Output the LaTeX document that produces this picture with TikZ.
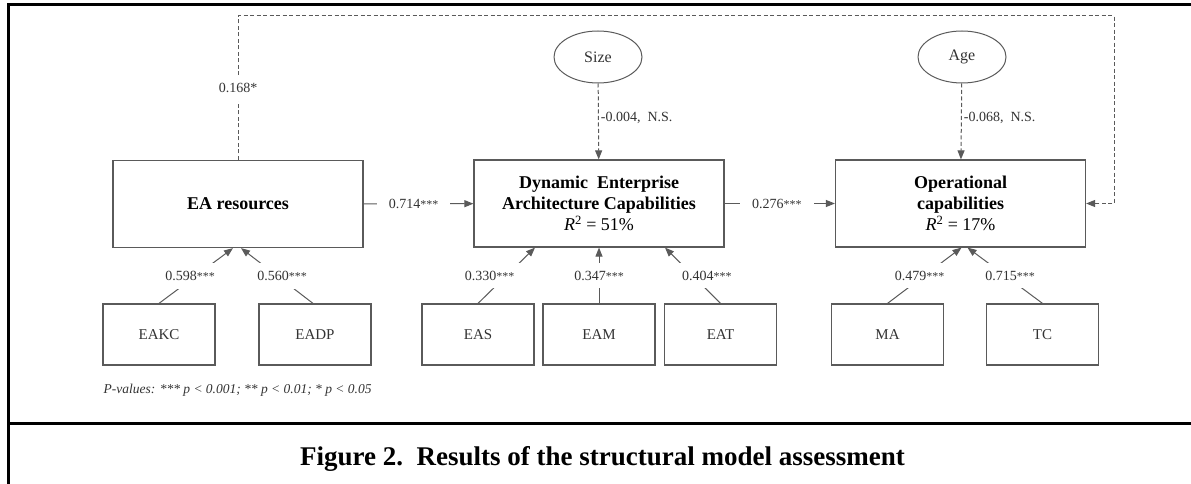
\documentclass[tikz,border=0pt]{standalone}
\usepackage{fontspec}
\setmainfont{Liberation Serif}
\usetikzlibrary{arrows.meta, shapes.geometric}

\definecolor{linegray}{HTML}{5A5A5A}
\definecolor{textgray}{HTML}{333333}
\newcommand{\stars}[1]{{\fontsize{12}{12}\selectfont#1}}

\begin{document}
\begin{tikzpicture}[x=1pt, y=-1pt,
        construct/.style={draw=linegray, line width=1.2pt, minimum width=250pt, minimum height=87pt,
            align=center, font=\fontsize{18}{21}\selectfont\bfseries},
        indicator/.style={draw=linegray, line width=1.2pt, minimum width=112pt, minimum height=61pt,
            font=\fontsize{15}{18}\selectfont, text=textgray},
        control/.style={ellipse, draw=linegray, line width=1pt, minimum width=88pt, minimum height=52pt,
            inner sep=0pt, font=\fontsize{16}{18}\selectfont, text=textgray},
        link/.style={draw=linegray, line width=1pt, -{Triangle[length=9pt, width=7pt]}},
        dashlink/.style={link, dash pattern=on 4pt off 2.5pt},
        coef/.style={fill=white, inner xsep=12pt, inner ysep=8pt, font=\fontsize{14}{16}\selectfont, text=textgray},
        sidecoef/.style={anchor=west, inner sep=2pt, font=\fontsize{14}{16}\selectfont, text=textgray}]
        \useasboundingbox (0,0) rectangle (1191,484);

        \draw[line width=3pt] (1191,5) -- (8.5,5) -- (8.5,484);
        \draw[line width=3pt] (8.5,423) -- (1191,423);

        \node[construct] (ea) at (238,204) {EA resources};
        \node[construct] (deac) at (599,203.5) {Dynamic~~Enterprise\\Architecture Capabilities\\\textnormal{\textit{R}\textsuperscript{2} = 51\%}};
        \node[construct] (op) at (960.5,203.5) {Operational\\capabilities\\\textnormal{\textit{R}\textsuperscript{2} = 17\%}};

        \node[control] (size) at (598,57) {Size};
        \node[control] (age) at (962,57) {Age};

        \node[indicator] (eakc) at (159,334.5) {EAKC};
        \node[indicator] (eadp) at (315,334.5) {EADP};
        \node[indicator] (eas) at (478,334.5) {EAS};
        \node[indicator] (eam) at (599,334.5) {EAM};
        \node[indicator] (eat) at (720.5,334.5) {EAT};
        \node[indicator] (ma) at (887.5,334.5) {MA};
        \node[indicator] (tc) at (1042.5,334.5) {TC};

        \draw[link] (ea) -- node[coef, xshift=-5pt] {0.714\stars{***}} (deac);
        \draw[link] (deac) -- node[coef, xshift=-3pt] {0.276\stars{***}} (op);

        \draw[dashlink] (size) -- node[sidecoef, pos=0.45] {-0.004,~~N.S.} (deac);
        \draw[dashlink] (age) -- node[sidecoef, pos=0.45] {-0.068,~~N.S.} (op);

        \coordinate (loop) at (1114,16);
        \draw[dashlink] (ea.north) -- node[coef] {0.168*} (ea.north |- loop) -- (loop) |- (op.east);

        \draw[link] (eakc.north) -- node[coef, xshift=-6pt] {0.598\stars{***}} ([xshift=-5pt]ea.south);
        \draw[link] ([xshift=-2pt]eadp.north) -- node[coef, xshift=5pt] {0.560\stars{***}} ([xshift=3pt]ea.south);
        \draw[link] (eas.north) -- node[coef, xshift=-17pt] {0.330\stars{***}} ([xshift=-64pt]deac.south);
        \draw[link] (eam.north) -- node[coef] {0.347\stars{***}} (deac.south);
        \draw[link] (eat.north) -- node[coef, xshift=14pt] {0.404\stars{***}} ([xshift=66pt]deac.south);
        \draw[link] (ma.north) -- node[coef, xshift=-5pt] {0.479\stars{***}} ([xshift=1pt]op.south);
        \draw[link] (tc.north) -- node[coef, xshift=5pt] {0.715\stars{***}} ([xshift=7pt]op.south);

        \node at (100,393)[anchor=base west, font=\fontsize{13.5}{15}\selectfont\itshape, text=textgray]
            {P-values: *** p < 0.001; ** p < 0.01; * p < 0.05};
        \node at (602.5,465)[anchor=base, font=\fontsize{27}{30}\selectfont\bfseries]
            {Figure 2.~~Results of the structural model assessment};
    \end{tikzpicture}
\end{document}
